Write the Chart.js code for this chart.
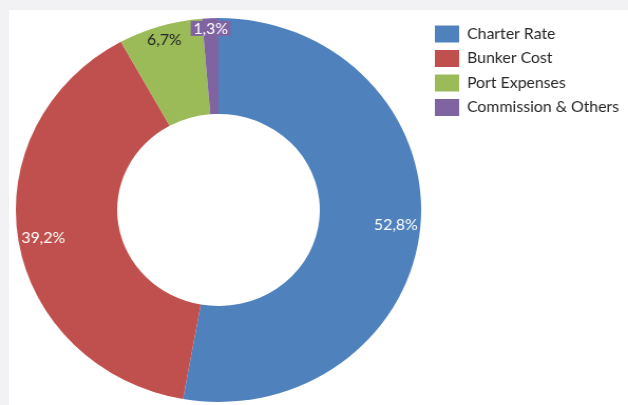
<!DOCTYPE html>
<html>
<head>
<meta charset="utf-8">
<script src="https://cdn.jsdelivr.net/npm/chart.js@4.4.1/dist/chart.umd.min.js"></script>
<style>
  html, body { margin: 0; padding: 0; background: #f2f2f4; overflow: hidden; width: 628px; height: 405px; }
  #panel { position: absolute; left: 9px; top: 10px; right: 0; bottom: 0; background: #ffffff; }
  /* the source picture is a bit wider than tall, so the canvas gets stretched sideways */
  #myChart { position: absolute; left: 0; top: 0; transform-origin: 0 0; transform: scaleX(1.0555); }
</style>
</head>
<body>
<div id="panel"></div>
<canvas id="myChart" width="660" height="405"></canvas>
<script>
// data
const categories = ['Charter Rate', 'Bunker Cost', 'Port Expenses', 'Commission & Others'];
const shares = [52.8, 39.2, 6.7, 1.3];

// styles
const sliceColors = ['#4f81bd', '#c0504d', '#9bbb59', '#8064a2'];
const labelColors = ['#ffffff', '#ffffff', '#222222', '#ffffff'];
const labelBoxed = [false, false, false, true];
const fontFamily = 'Lato';
const fontSize = 15;

// legend sizes
const legendBox = 23;
const legendPad = 7.5;
const legendLeft = 404.5; // where the legend should start (canvas px)

// measure the widest legend text the same way chart.js does, so the legend ends up where we want
const measureCtx = document.createElement('canvas').getContext('2d');
measureCtx.font = fontSize + 'px ' + fontFamily;
let widest = 0;
categories.forEach(c => { widest = Math.max(widest, measureCtx.measureText(c).width); });
const legendWidth = legendPad + legendBox + fontSize / 2 + widest + 10;

const myChart = document.getElementById('myChart');
const padRight = myChart.width - legendLeft - legendWidth;

// draws the "52,8%" style labels near the outer edge of each slice
const sliceLabels = {
  id: 'sliceLabels',
  afterDatasetsDraw(chart) {
    const ctx = chart.ctx;
    const meta = chart.getDatasetMeta(0);
    ctx.save();
    ctx.font = fontSize + 'px ' + fontFamily;
    ctx.textAlign = 'center';
    ctx.textBaseline = 'middle';
    meta.data.forEach((arc, i) => {
      const p = arc.getProps(['x', 'y', 'startAngle', 'endAngle', 'outerRadius']);
      const a = (p.startAngle + p.endAngle) / 2;
      const text = shares[i].toFixed(1).replace('.', ',') + '%';
      const w = ctx.measureText(text).width + (labelBoxed[i] ? 5 : 0);
      const h = 15;
      const ux = Math.cos(a), uy = Math.sin(a);
      const d = p.outerRadius - 2 - (Math.abs(ux) * w / 2 + Math.abs(uy) * h / 2);
      const x = p.x + ux * d;
      const y = p.y + uy * d;
      if (labelBoxed[i]) {
        ctx.fillStyle = sliceColors[i];
        ctx.fillRect(x - w / 2, y - h / 2, w, h);
      }
      ctx.fillStyle = labelColors[i];
      ctx.fillText(text, x, y + 0.5);
    });
    ctx.restore();
  }
};

new Chart(myChart, {
  type: 'doughnut',
  data: {
    labels: categories,
    datasets: [{
      data: shares,
      backgroundColor: sliceColors,
      borderWidth: 0
    }]
  },
  options: {
    responsive: false,
    animation: false,
    cutout: '50%',
    layout: {
      padding: { left: 9.5, top: 18, bottom: 3, right: padRight }
    },
    plugins: {
      tooltip: { enabled: false },
      legend: {
        position: 'right',
        align: 'start',
        labels: {
          boxWidth: legendBox,
          boxHeight: 17,
          padding: legendPad,
          color: '#262626',
          font: { family: fontFamily, size: fontSize }
        }
      }
    }
  },
  plugins: [sliceLabels]
});
</script>
</body>
</html>
